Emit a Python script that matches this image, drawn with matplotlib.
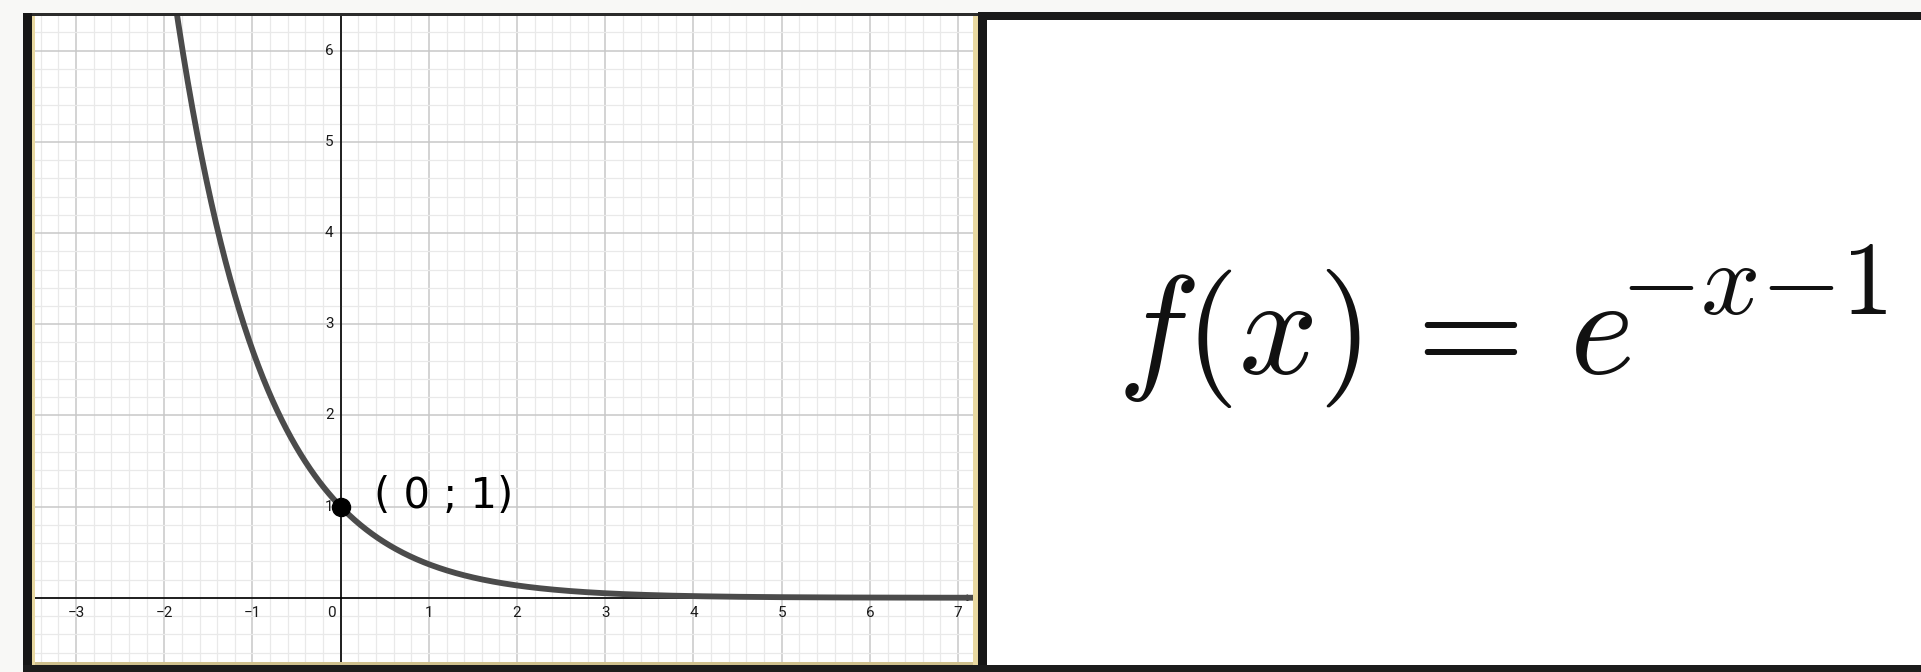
import matplotlib
matplotlib.use("Agg")
import matplotlib.pyplot as plt
import numpy as np
from matplotlib.patches import Rectangle
from matplotlib.ticker import MultipleLocator

# graph window and the plotted function f(x) = e^(k*x)
x_lim = (-3.465, 7.18)
y_lim = (-0.737, 6.38)
k = -1.0
x_ticks = [-3, -2, -1, 1, 2, 3, 4, 5, 6, 7]
y_ticks = [1, 2, 3, 4, 5, 6]
point = (0, 1)
point_label = "( 0 ; 1)"
formula_base = r"$f(x)\,=\,e$"
formula_exp = r"${-}x{-}1$"

W, H = 1921, 672
plt.rcParams["mathtext.fontset"] = "cm"
fig = plt.figure(figsize=(W / 100, H / 100), dpi=100, facecolor="#f8f8f6")


def px_rect(x0, y0, x1, y1, color, z=1):
    # pixel box, top-left origin
    r = Rectangle((x0 / W, 1 - y1 / H), (x1 - x0) / W, (y1 - y0) / H,
                  transform=fig.transFigure, color=color, lw=0, zorder=z)
    fig.add_artist(r)


# left panel: graph
ax = fig.add_axes([35 / W, 7 / H, (974 - 35) / W, (665 - 16) / H])
ax.set_facecolor("white")
ax.set_xlim(*x_lim)
ax.set_ylim(*y_lim)
ax.xaxis.set_major_locator(MultipleLocator(1))
ax.yaxis.set_major_locator(MultipleLocator(1))
ax.xaxis.set_minor_locator(MultipleLocator(0.2))
ax.yaxis.set_minor_locator(MultipleLocator(0.2))
ax.grid(which="minor", color="#e9e9e9", lw=0.9)
ax.grid(which="major", color="#c8c8c8", lw=1.1)
ax.set_axisbelow(True)
for s in ax.spines.values():
    s.set_visible(False)
ax.tick_params(which="both", length=0, labelbottom=False, labelleft=False)

ax.axhline(0, color="black", lw=1.2, zorder=2)
ax.axvline(0, color="black", lw=1.2, zorder=2)
ax.annotate("", xy=(x_lim[1], 0), xytext=(x_lim[1] - 0.15, 0),
            arrowprops=dict(arrowstyle="-|>", color="black", lw=1.2,
                            mutation_scale=9, shrinkA=0, shrinkB=0),
            annotation_clip=False, zorder=3)

lab = dict(fontsize=11, family=["Roboto", "DejaVu Sans"], color="#1a1a1a")
for t in x_ticks:
    ax.annotate(f"{t}".replace("-", "\u2212"), (t, 0), xytext=(0, -8),
                textcoords="offset pixels", ha="center", va="top", **lab)
for t in y_ticks:
    ax.annotate(f"{t}", (0, t), xytext=(-7, 0),
                textcoords="offset pixels", ha="right", va="center", **lab)
ax.annotate("0", (0, 0), xytext=(-5, -8), textcoords="offset pixels",
            ha="right", va="top", **lab)

xs = np.linspace(x_lim[0], x_lim[1], 800)
ax.plot(xs, np.exp(k * xs), color="#4b4b4b", lw=4.2, solid_capstyle="butt",
        zorder=4)
ax.plot(*point, "o", color="black", ms=13, zorder=5)
ax.text(0.38, 1.12, point_label, fontsize=30, family="DejaVu Sans",
        ha="left", va="center", color="black", zorder=5)

# left panel frame
px_rect(23, 13, 978, 16, "#2b2b2b")
px_rect(23, 13, 32, 672, "#161616")
px_rect(32, 16, 35, 665, "#e8d8a0")
px_rect(973, 16, 978, 665, "#e8d8a0")
px_rect(978, 12, 987, 672, "#161616")
px_rect(35, 662, 973, 665, "#cfc08e")
px_rect(23, 665, 1921, 672, "#1c1c1c")

# right panel: formula card
px_rect(987, 20, 1921, 665, "white")
px_rect(978, 12, 1921, 20, "#1a1a1a")

base = fig.text(1117 / W, 1 - 373 / H, formula_base, fontsize=100,
                ha="left", va="baseline", color="#111111", zorder=6)
fig.text(1620 / W, 1 - 314 / H, formula_exp, fontsize=75,
         ha="left", va="baseline", color="#111111", zorder=6)

fig.savefig("out.png", dpi=100, facecolor=fig.get_facecolor())
